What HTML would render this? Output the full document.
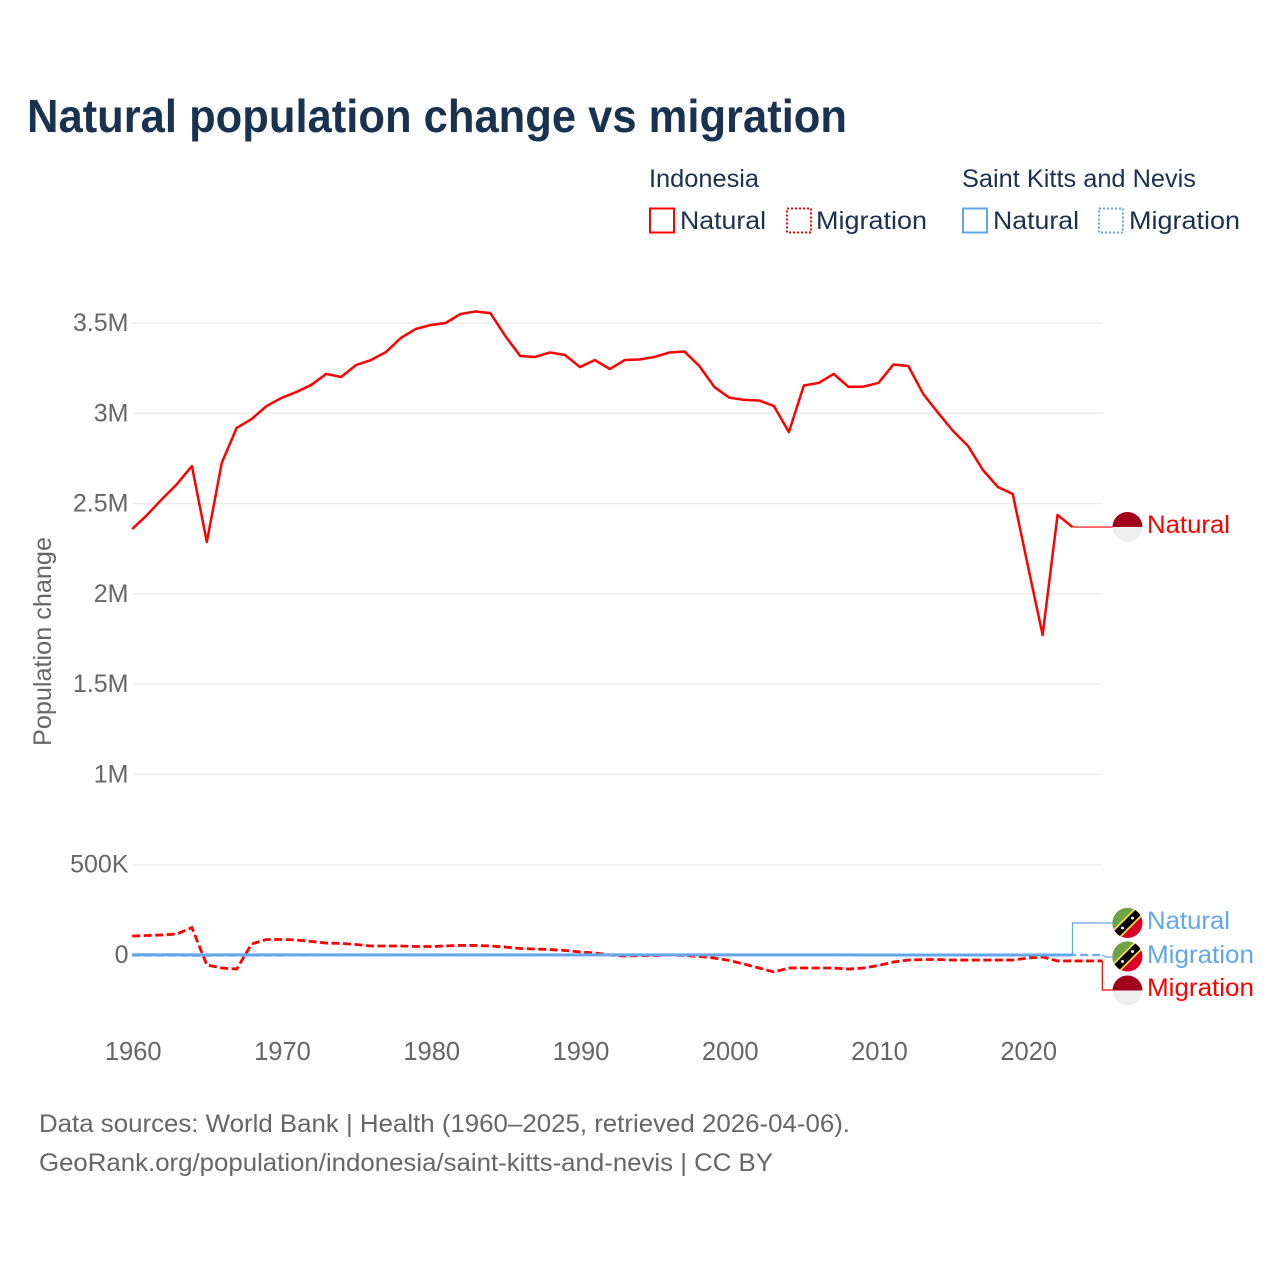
<!DOCTYPE html>
<html lang="en">
<head>
<meta charset="utf-8">
<title>Natural population change vs migration</title>
<style>
html,body{margin:0;padding:0;background:#fff;width:1280px;height:1280px;overflow:hidden}
svg{display:block}
text{font-family:"Liberation Sans",sans-serif}
.tick{font-size:25px;fill:#666}
.legend{font-size:25px;fill:#19304f}
.foot{font-size:25px;fill:#666}
</style>
</head>
<body>
<svg id="chart" xmlns="http://www.w3.org/2000/svg" width="1280" height="1280" viewBox="0 0 1280 1280">
  <defs>
    <clipPath id="flag-clip"><circle cx="0" cy="0" r="15"/></clipPath>
  </defs>
  <rect width="1280" height="1280" fill="#fff"/>

  <text x="27" y="132" font-size="46" font-weight="700" fill="#18324f" textLength="820" lengthAdjust="spacingAndGlyphs">Natural population change vs migration</text>

  <g>
    <text class="legend" x="649" y="187" textLength="110" lengthAdjust="spacingAndGlyphs">Indonesia</text>
    <text class="legend" x="962" y="187" textLength="234" lengthAdjust="spacingAndGlyphs">Saint Kitts and Nevis</text>

    <rect x="650" y="208.500" width="24" height="24" fill="none" stroke="#ff0000" stroke-width="2"/>
    <text class="legend" x="680" y="229" textLength="86" lengthAdjust="spacingAndGlyphs">Natural</text>
    <rect x="787" y="208.500" width="24" height="24" fill="none" stroke="#ff0000" stroke-width="2" stroke-dasharray="2 2"/>
    <text class="legend" x="816" y="229" textLength="111" lengthAdjust="spacingAndGlyphs">Migration</text>

    <rect x="963" y="208.500" width="24" height="24" fill="none" stroke="#62a6ec" stroke-width="2"/>
    <text class="legend" x="993" y="229" textLength="86" lengthAdjust="spacingAndGlyphs">Natural</text>
    <rect x="1099" y="208.500" width="24" height="24" fill="none" stroke="#62a6ec" stroke-width="2" stroke-dasharray="2 2"/>
    <text class="legend" x="1129" y="229" textLength="111" lengthAdjust="spacingAndGlyphs">Migration</text>
  </g>

  <g id="grid"></g>
  <g id="yticks"></g>
  <g id="xticks"></g>
  <text transform="translate(51,746) rotate(-90)" font-size="25" fill="#666" textLength="209" lengthAdjust="spacingAndGlyphs">Population change</text>

  <g id="series"></g>
  <g id="leaders"></g>

  <g transform="translate(1127.500,527)">
    <g clip-path="url(#flag-clip)"><rect x="-15" y="-15" width="30" height="15" fill="#a2001d"/><rect x="-15" y="0" width="30" height="15" fill="#eeeeee"/></g>
  </g>
  <g transform="translate(1127.500,923)">
    <g clip-path="url(#flag-clip)"><rect x="-15" y="-15" width="30" height="30" fill="#d80027"/><path d="M-15 15V-15H15Z" fill="#6da544"/><path d="M-15 15L15 -15" stroke="#ffda44" stroke-width="11"/><path d="M-15 15L15 -15" stroke="#000" stroke-width="7.500"/><circle cx="-5" cy="5" r="1.500" fill="#f0f0f0"/><circle cx="5" cy="-5" r="1.500" fill="#f0f0f0"/></g>
  </g>
  <g transform="translate(1127.500,956.500)">
    <g clip-path="url(#flag-clip)"><rect x="-15" y="-15" width="30" height="30" fill="#d80027"/><path d="M-15 15V-15H15Z" fill="#6da544"/><path d="M-15 15L15 -15" stroke="#ffda44" stroke-width="11"/><path d="M-15 15L15 -15" stroke="#000" stroke-width="7.500"/><circle cx="-5" cy="5" r="1.500" fill="#f0f0f0"/><circle cx="5" cy="-5" r="1.500" fill="#f0f0f0"/></g>
  </g>
  <g transform="translate(1127.500,990.500)">
    <g clip-path="url(#flag-clip)"><rect x="-15" y="-15" width="30" height="15" fill="#a2001d"/><rect x="-15" y="0" width="30" height="15" fill="#eeeeee"/></g>
  </g>

  <text x="1147" y="533" font-size="25" fill="#ff0000" textLength="83" lengthAdjust="spacingAndGlyphs">Natural</text>
  <text x="1147" y="929" font-size="25" fill="#62a6ec" textLength="83" lengthAdjust="spacingAndGlyphs">Natural</text>
  <text x="1147" y="963" font-size="25" fill="#62a6ec" textLength="107" lengthAdjust="spacingAndGlyphs">Migration</text>
  <text x="1147" y="996" font-size="25" fill="#ff0000" textLength="107" lengthAdjust="spacingAndGlyphs">Migration</text>

  <text class="foot" x="39" y="1132" textLength="811" lengthAdjust="spacingAndGlyphs">Data sources: World Bank | Health (1960–2025, retrieved 2026-04-06).</text>
  <text class="foot" x="39" y="1171" textLength="734" lengthAdjust="spacingAndGlyphs">GeoRank.org/population/indonesia/saint-kitts-and-nevis | CC BY</text>
</svg>

<script>
const startYear = 1960;
const xTickYears = [1960, 1970, 1980, 1990, 2000, 2010, 2020];
const yTickValues = [0, 500000, 1000000, 1500000, 2000000, 2500000, 3000000, 3500000];
const yTickLabels = ["0", "500K", "1M", "1.5M", "2M", "2.5M", "3M", "3.5M"];

const indonesiaNatural = [
  2359000, 2437000, 2525000, 2608000, 2708000, 2287000, 2725000, 2919000, 2968000, 3040000,
  3085000, 3118000, 3157000, 3218000, 3201000, 3267000, 3295000, 3339000, 3417000, 3467000,
  3489000, 3500000, 3550000, 3564000, 3555000, 3428000, 3317000, 3312000, 3337000, 3323000,
  3256000, 3295000, 3245000, 3295000, 3298000, 3312000, 3337000, 3342000, 3262000, 3146000,
  3087000, 3074000, 3071000, 3040000, 2896000, 3154000, 3168000, 3218000, 3146000, 3148000,
  3168000, 3270000, 3262000, 3107000, 3002000, 2902000, 2819000, 2686000, 2592000, 2553000,
  2160000, 1772000, 2437000, 2370000
];
const indonesiaMigration = [
  105000, 108000, 111000, 116000, 152000, -55000, -72000, -78000, 61000, 86000,
  86000, 83000, 75000, 66000, 64000, 58000, 50000, 50000, 50000, 47000,
  47000, 50000, 53000, 53000, 50000, 44000, 36000, 33000, 30000, 25000,
  17000, 11000, 0, -6000, -3000, -3000, 0, -3000, -8000, -17000,
  -30000, -50000, -72000, -94000, -72000, -72000, -72000, -72000, -78000, -72000,
  -58000, -39000, -28000, -25000, -25000, -28000, -28000, -28000, -28000, -28000,
  -17000, -11000, -33000, -33000, -33000, -33000
];
const sknNatural = [
  1200, 1200, 1100, 1100, 1000, 1000, 900, 900, 800, 800,
  700, 700, 700, 600, 600, 600, 600, 600, 500, 500,
  500, 500, 500, 500, 500, 500, 500, 500, 500, 500,
  500, 400, 400, 400, 400, 400, 400, 400, 400, 400,
  400, 400, 400, 400, 400, 400, 400, 400, 400, 300,
  300, 300, 300, 300, 300, 300, 300, 200, 200, 200,
  200, 100, 100, 100
];
const sknMigration = [
  -2000, -2000, -2200, -2400, -2500, -2500, -2400, -2200, -2000, -2000,
  -1800, -1600, -1500, -1400, -1200, -1000, -900, -800, -800, -800,
  -800, -700, -700, -600, -600, -600, -500, -500, -500, -400,
  -300, -200, 200, 300, 300, 200, 200, 200, 300, 300,
  300, 200, 300, 300, 200, 200, 200, 200, 200, 200,
  100, 100, 100, 100, 100, 100, 100, 100, 100, 100,
  0, 0, 0, 0, 0, -1000
];

const svgNS = "http://www.w3.org/2000/svg";
function xScale(year) { return 132.200 + (year - startYear) * 14.925; }
function yScale(value) { return 955 - value * 0.00018057; }
function linePath(values) {
  return values.map(function (v, i) {
    return (i ? "L" : "M") + xScale(startYear + i).toFixed(2) + " " + yScale(v).toFixed(2);
  }).join("");
}
function make(tag, attrs, parent) {
  const el = document.createElementNS(svgNS, tag);
  Object.keys(attrs).forEach(function (k) { el.setAttribute(k, attrs[k]); });
  parent.appendChild(el);
  return el;
}

const gridG = document.getElementById("grid");
const yTickG = document.getElementById("yticks");
const xTickG = document.getElementById("xticks");
const seriesG = document.getElementById("series");
const leaderG = document.getElementById("leaders");

yTickValues.forEach(function (v, i) {
  const y = yScale(v);
  if (v !== 0) {
    const g = make("line", { x1: 133, x2: 1102.500, y1: y, y2: y, stroke: "#ebebeb", "stroke-width": 1.300 }, gridG);
    
    
  }
  const t = make("text", { x: 128.500, y: y + 8, "text-anchor": "end", class: "tick" }, yTickG);
  t.textContent = yTickLabels[i];
  
  
});

xTickYears.forEach(function (yr) {
  const t = make("text", { x: xScale(yr) + 1, y: 1060, "text-anchor": "middle", class: "tick", style: "font-size:25.5px" }, xTickG);
  t.textContent = String(yr);
  
  
});

const redDash = make("path", { d: linePath(indonesiaMigration), fill: "none", stroke: "#ff0000", "stroke-width": 2.800, "stroke-dasharray": "8 3.500" }, seriesG);



const redLine = make("path", { d: linePath(indonesiaNatural), fill: "none", stroke: "#ff0000", "stroke-width": 2.500, "stroke-linejoin": "round" }, seriesG);



const blueDash = make("path", { d: linePath(sknMigration), fill: "none", stroke: "#62a6ec", "stroke-width": 2.500, "stroke-dasharray": "8 4", opacity: 0.9 }, seriesG);



const blueLine = make("path", { d: linePath(sknNatural), fill: "none", stroke: "#62a6ec", "stroke-width": 3 }, seriesG);



function endOf(values) {
  const i = values.length - 1;
  return { x: xScale(startYear + i), y: yScale(values[i]) };
}
const e1 = endOf(indonesiaNatural);
const leader1 = make("path", { d: "M" + e1.x + " " + e1.y + "H1113", fill: "none", stroke: "#ff0000", "stroke-width": 1.200 }, leaderG);



const e2 = endOf(sknNatural);
const leader2 = make("path", { d: "M" + e2.x + " " + e2.y + "V923H1113", fill: "none", stroke: "#62a6ec", "stroke-width": 1.200 }, leaderG);



const e3 = endOf(sknMigration);
const leader3 = make("path", { d: "M" + e3.x + " " + e3.y + "L1106 957H1113", fill: "none", stroke: "#62a6ec", "stroke-width": 1.200 }, leaderG);



const e4 = endOf(indonesiaMigration);
const leader4 = make("path", { d: "M" + e4.x + " " + e4.y + "V990H1113", fill: "none", stroke: "#ff0000", "stroke-width": 1.200 }, leaderG);


</script>
</body>
</html>
